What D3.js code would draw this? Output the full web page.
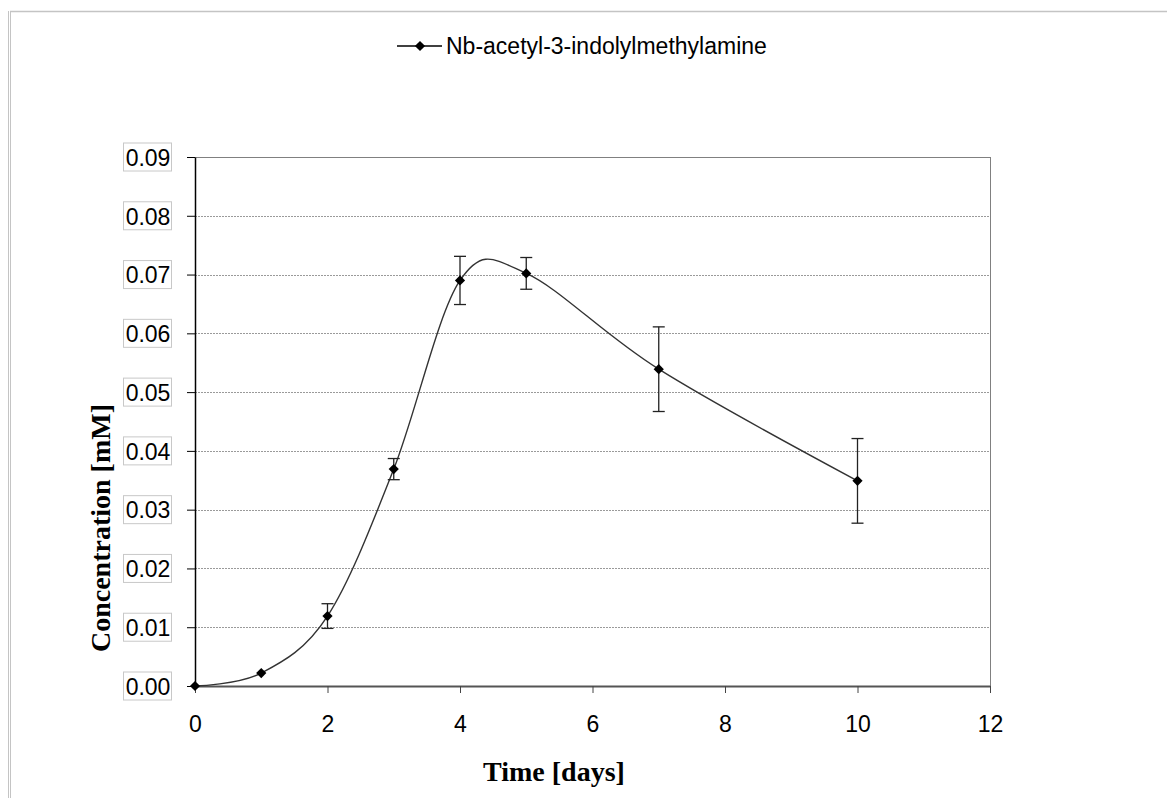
<!DOCTYPE html>
<html>
<head>
<meta charset="utf-8">
<script src="https://cdn.jsdelivr.net/npm/d3@7"></script>
<style>
  body { margin: 0; background: #fff; }
  svg { display: block; }
</style>
</head>
<body>
<div id="chart"></div>
<script>
// data
const days = [0, 1, 2, 3, 4, 5, 7, 10];
const concentration = [0, 0.0022, 0.0119, 0.0369, 0.0690, 0.0702, 0.0539, 0.0349];
const errors = [0, 0, 0.0021, 0.0018, 0.0041, 0.0027, 0.0072, 0.0072];
const xTicks = [0, 2, 4, 6, 8, 10, 12];
const yTicks = [0, 0.01, 0.02, 0.03, 0.04, 0.05, 0.06, 0.07, 0.08, 0.09];
const seriesName = 'Nb-acetyl-3-indolylmethylamine';

const W = 1167;
const H = 798;
const plot = { left: 195, right: 990, top: 157, bottom: 686 };
const labelFont = '23px "Liberation Sans", Arial, sans-serif';
const titleFont = 'bold 28px "Liberation Serif", "Times New Roman", serif';

const svg = d3.select('#chart').append('svg')
    .attr('width', W)
    .attr('height', H);

// outer chart frame
svg.append('line').attr('x1', 8.5).attr('x2', 8.5).attr('y1', 11).attr('y2', H)
    .attr('stroke', '#c4c4c4').attr('stroke-width', 1);
svg.append('line').attr('x1', 10.5).attr('x2', 10.5).attr('y1', 11).attr('y2', H)
    .attr('stroke', '#c4c4c4').attr('stroke-width', 1);
svg.append('line').attr('x1', 10).attr('x2', W).attr('y1', 11.5).attr('y2', 11.5)
    .attr('stroke', '#c4c4c4').attr('stroke-width', 1.5);

const x = d3.scaleLinear().domain([0, 12]).range([plot.left, plot.right]);
const y = d3.scaleLinear().domain([0, 0.09]).range([plot.bottom, plot.top]);

// gridlines
svg.append('g')
    .selectAll('line')
    .data(yTicks.filter(d => d > 0 && d < 0.09))
    .enter().append('line')
    .attr('x1', plot.left)
    .attr('x2', plot.right)
    .attr('y1', d => Math.round(y(d)) + 0.5)
    .attr('y2', d => Math.round(y(d)) + 0.5)
    .attr('stroke', '#9a9a9a')
    .attr('stroke-dasharray', '2,1');

// plot border (top / right)
svg.append('line').attr('x1', plot.left).attr('x2', plot.right)
    .attr('y1', plot.top + 0.5).attr('y2', plot.top + 0.5)
    .attr('stroke', '#808080');
svg.append('line').attr('x1', plot.right + 0.5).attr('x2', plot.right + 0.5)
    .attr('y1', plot.top).attr('y2', plot.bottom)
    .attr('stroke', '#808080');

// x axis
const xAxis = svg.append('g')
    .attr('transform', `translate(0,${plot.bottom})`)
    .call(d3.axisBottom(x).tickValues(xTicks).tickSize(7).tickSizeOuter(0).tickFormat(d3.format('d')));
xAxis.select('.domain').attr('stroke', '#555').attr('stroke-width', 2);
xAxis.selectAll('.tick line').attr('stroke', '#444');
xAxis.selectAll('.tick text')
    .attr('y', 46)
    .attr('dy', 0)
    .attr('fill', '#000')
    .style('font', labelFont);

// y axis
const yAxis = svg.append('g')
    .attr('transform', `translate(${plot.left},0)`)
    .call(d3.axisLeft(y).tickValues(yTicks).tickSize(8).tickSizeOuter(0).tickFormat(d3.format('.2f')));
yAxis.select('.domain').attr('stroke', '#000').attr('stroke-width', 1.5);
yAxis.selectAll('.tick line').attr('stroke', '#000');
yAxis.selectAll('.tick text')
    .attr('x', -47)
    .attr('dy', '0.36em')
    .attr('text-anchor', 'middle')
    .attr('fill', '#000')
    .style('font', labelFont);
yAxis.selectAll('.tick').insert('rect', 'text')
    .attr('x', -71.5)
    .attr('y', -14.5)
    .attr('width', 48)
    .attr('height', 28)
    .attr('fill', 'none')
    .attr('stroke', '#c8c8c8');

// axis titles
svg.append('text')
    .attr('x', 554)
    .attr('y', 781)
    .attr('text-anchor', 'middle')
    .style('font', titleFont)
    .text('Time [days]');

svg.append('text')
    .attr('transform', 'translate(110,528) rotate(-90)')
    .attr('text-anchor', 'middle')
    .style('font', titleFont)
    .text('Concentration [mM]');

const points = days.map((d, i) => ({ day: d, value: concentration[i], err: errors[i] }));

// smoothed series line
const line = d3.line()
    .x(d => x(d.day))
    .y(d => y(d.value))
    .curve(d3.curveCardinal.tension(0));

svg.append('path')
    .datum(points)
    .attr('d', line)
    .attr('fill', 'none')
    .attr('stroke', '#333')
    .attr('stroke-width', 1.4);

// error bars
const bars = svg.append('g')
    .selectAll('g')
    .data(points.filter(d => d.err > 0))
    .enter().append('g')
    .attr('stroke', '#222')
    .attr('stroke-width', 1.3);
bars.append('line')
    .attr('x1', d => x(d.day)).attr('x2', d => x(d.day))
    .attr('y1', d => y(d.value + d.err)).attr('y2', d => y(d.value - d.err));
bars.append('line')
    .attr('x1', d => x(d.day) - 6).attr('x2', d => x(d.day) + 6)
    .attr('y1', d => y(d.value + d.err)).attr('y2', d => y(d.value + d.err));
bars.append('line')
    .attr('x1', d => x(d.day) - 6).attr('x2', d => x(d.day) + 6)
    .attr('y1', d => y(d.value - d.err)).attr('y2', d => y(d.value - d.err));

// diamond markers
const diamond = d3.symbol().type(d3.symbolSquare).size(52);
svg.append('g')
    .selectAll('path')
    .data(points)
    .enter().append('path')
    .attr('d', diamond)
    .attr('transform', d => `translate(${x(d.day)},${y(d.value)}) rotate(45)`)
    .attr('fill', '#000');

// legend
const legend = svg.append('g').attr('transform', 'translate(397,46)');
legend.append('line')
    .attr('x1', 0).attr('x2', 45)
    .attr('y1', 0).attr('y2', 0)
    .attr('stroke', '#000').attr('stroke-width', 1.3);
legend.append('path')
    .attr('d', diamond)
    .attr('transform', 'translate(23,0) rotate(45)')
    .attr('fill', '#000');
legend.append('text')
    .attr('x', 49)
    .attr('y', 8)
    .style('font', labelFont)
    .text(seriesName);
</script>
</body>
</html>
